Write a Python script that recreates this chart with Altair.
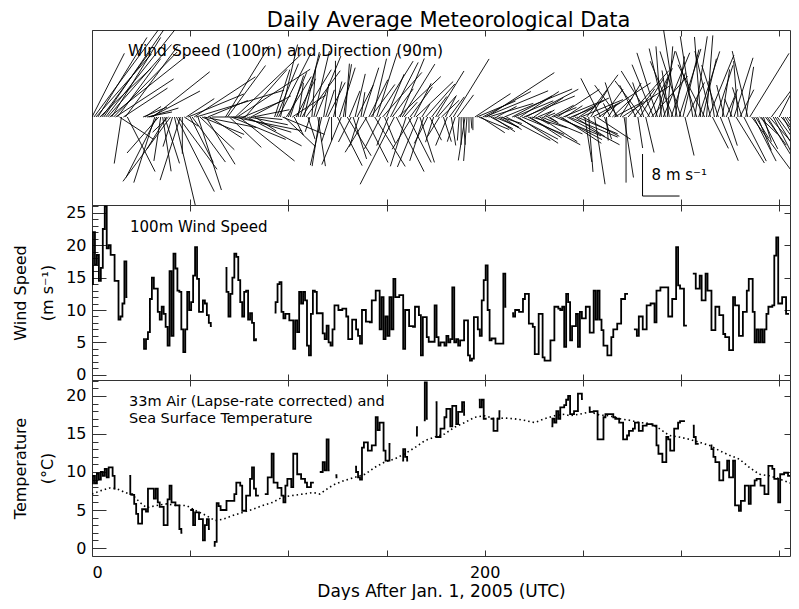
import altair as alt
import pandas as pd

# ---------------- data ----------------
# daily 100 m wind speed (m/s), contiguous segments: (first day, values)
speed_segments = [
    (0,   [14, 22, 17, 18.5, 14.5, 16.5, 22.5, 26, 19.5, 20, 18.5, 18.5, 14.5, 14.5, 8.5, 9, 11, 17.5, 12]),
    (26,  [5.5, 4, 5.5, 6.6, 11.7, 15, 13.3, 13.3, 9.7, 8.5, 10.5, 9.4, 7.4, 4.5, 16, 6, 18.7, 16.4, 13, 12.8,
           7, 3.5, 7, 12.8, 10, 11.2, 15.3, 19.7, 14.8, 9.7, 9.7, 11.5, 11, 9.2, 8, 7.5]),
    (68,  [16.5, 12.8, 9, 12.5, 15, 18.7, 18.2, 14.6, 11.2, 9, 12.8, 13, 8.5, 9.5, 8, 5.3, 5.5]),
    (93,  [9.6, 11.2, 14, 14.3, 9.7, 8.7, 9.4, 9.4, 8.4, 8.4,
           4, 8.4, 6.6, 12.8, 11, 12.8, 11.5, 4.5, 3, 9.4,
           13, 12.8, 9.5, 9.5, 9.5, 6.4, 5.5, 7.6, 5, 4.5,
           7, 10.7, 10.7, 10, 10, 10.2, 10.2, 9, 5.5, 5.5,
           8.5, 8.5, 7, 6, 4.8, 10, 10, 8.2, 8.2, 8.1,
           11.5, 11.5, 13, 13, 7, 12, 5.5, 9, 6, 12,
           7, 14.8, 12, 12, 12.3, 12.3, 4, 10, 10, 7.5,
           7.5, 7.4, 10.5, 10.5, 9.2, 3, 8.9, 8.9, 5.8, 5.1,
           5.1, 5.1, 10.7, 5.8, 4.5, 5, 5, 4.5, 6, 5,
           5.5, 13.5, 5, 5.5, 4.5, 5.3, 5.3, 8.4, 8.4, 3,
           2.2, 2.5, 8.9, 8.9, 7, 6, 11.5, 14.6, 16.9, 10,
           5.3, 5.6, 5.6, 4.8, 4.8, 4.8, 4.8, 15.6, 10.5]),
    (214, [9.5, 9, 10, 10, 9.7, 9.7, 11.7, 12.5, 12.5, 7.9,
           7.9, 7.4, 3.2, 3.2, 9.4, 9.4, 2.7, 2.2, 2.2, 2.2,
           5.3, 5.3, 10.5, 10.5, 10.2, 10, 10.5, 4.3, 12.5, 11.2,
           5.3, 7.5, 7.5, 9.4, 4.3, 9.7, 8.7, 8.7, 10.5, 10.5,
           6.5, 6.5, 13, 8.5, 13, 8.5, 6.9, 4.5, 4.5, 3,
           3, 5.8, 7, 7, 7.9, 7.9, 11.7, 11.7, 12.5, 12.5]),
    (276, [7, 7, 6, 9, 9, 7, 7, 10.7, 10.7, 11,
           11, 8.1, 13, 13, 13.5, 13.5, 13.5, 13.5, 9, 9,
           11.7, 11.7, 19.7, 13.8, 13.3, 13.3, 7.6, 7.6]),
    (306, [15.6, 15.6, 13.3, 13.3, 15.3, 11.5, 11.5, 15.6, 13, 13,
           6.9, 6.9, 10.5, 10.5, 9.2, 9.2, 6.3, 5.8, 5.8, 3.8,
           3.8, 12, 10.7, 10.7, 6, 6, 9.7, 9.7, 13, 14.8,
           14.8, 9.7, 5, 7, 5, 7, 5, 7, 9.4, 10.5,
           10.5, 10.7, 18.4, 21.2, 11, 11, 12, 12, 9.4, 9.4]),
    (359, [14]),
]

# 90 m wind direction (degrees, direction the stick points, clockwise from north)
direction_segments = [
    (0,   [30, 40, 45, 35, 50, 40, 38, 42, 45, 55, 35, 48, 60, 40, 120, 190, 60, 40, 150]),
    (26,  [70, 60, 80, 75, 65, 55, 200, 210, 225, 190, 170, 160, 215, 230, 220, 200, 165, 150, 140, 200,
           180, 120, 60, 70, 150, 140, 60, 75, 160, 130, 110, 100, 145, 70, 120, 90]),
    (68,  [35, 40, 130, 110, 100, 50, 60, 125, 105, 70, 45, 115, 100, 65, 80, 120, 95]),
    (93,  [20, 25, 30, 15, 110, 130, 35, 25, 20, 60,
           150, 30, 10, 20, 35, 15, 40, 160, 200, 5,
           15, 25, 170, 190, 195, 10, 20, 30, 200, 180,
           15, 0, 150, 20, 205, 10, 5, 145, 25, 210,
           160, 15, 30, 200, 10, 20, 150, 215, 30, 40,
           15, 145, 20, 35, 210, 45, 155, 25, 205, 30,
           40, 210, 150, 50, 25, 35, 45, 200, 150, 40,
           215, 30, 50, 205, 160, 35, 200, 45, 210, 150,
           40, 200, 35, 45, 215, 50, 160, 30, 205, 40,
           170, 35, 200, 40, 185, 180, 175, 190, 185, 180,
           175, 180, 60, 70, 110, 120, 65, 70, 60, 75,
           115, 120, 110, 65, 115, 105, 120, 70, 115]),
    (214, [65, 70, 115, 120, 60, 110, 70, 65, 115, 120,
           105, 60, 115, 70, 120, 110, 60, 70, 115, 120,
           65, 70, 110, 60, 115, 120, 70, 60, 115, 110,
           70, 65, 120, 110, 60, 70, 115, 170, 40, 175,
           35, 65, 170, 120, 60, 330, 40, 160, 175, 35,
           330, 50, 65, 340, 320, 35, 60, 170, 180, 45]),
    (276, [40, 330, 170, 35, 320, 340, 165, 30, 325, 45,
           335, 20, 340, 15, 355, 25, 345, 5, 350, 20,
           335, 10, 350, 20, 340, 15, 165, 30]),
    (306, [350, 10, 340, 20, 355, 15, 330, 5, 25, 345,
           150, 350, 20, 340, 155, 10, 345, 25, 160, 15,
           335, 20, 145, 355, 30, 340, 150, 10, 345, 35,
           140, 150, 145, 155, 130, 150, 160, 140, 145, 135,
           40, 150, 145, 140, 30, 135, 150, 145, 140, 130]),
    (359, [140]),
]

# 33 m air temperature (deg C), contiguous segments
air_segments = [
    (0,   [8.5, 9.5, 8.5, 9.8, 9, 10, 9.5, 10.4, 9.3, 10.6, 10.6, 9.5, 7.8]),
    (19,  [9.5, 7.1, 7, 5.8, 4.5, 3.2, 3.2, 5.1, 5.1, 4.8, 7.8, 7.8, 7.8, 6.5, 7.8, 6, 5.4, 5.4, 3, 3,
           6.4, 8.2, 6, 6, 5.6, 5.6, 2.5, 2]),
    (50,  [5, 5, 3, 4.7, 4.7, 3.8, 3.8, 1, 3, 3.8, 2.5]),
    (62,  [0.3, 0.8, 5.9, 5.5, 5, 5, 5, 6.2, 6.2, 6.2, 6.2, 7.1, 8.6, 8.6, 8.2, 4.9, 4.9, 6.9, 6.9, 9.1,
           10.6, 7.8, 6.9, 6.9]),
    (88,  [7.1, 7.1, 9.3, 9.3, 12.4, 8.6, 8.6, 7.9, 7.9, 6.9, 6, 8.2, 9.1, 9.1, 8, 12.4, 12.4, 9.7, 9.7, 9.1,
           9.1, 8.6, 8, 8, 8.6, 8.6]),
    (116, [10, 10, 11.3, 10.2, 14.3, 10.2]),
    (124, [9.6, 9.3]),
    (134, [10.7, 10, 9.3, 9, 13.2, 13.9, 13.9, 12.8, 12.8, 13.5, 13.5, 17.2, 15.5, 16.5, 16.5, 12.8, 11.5,
           11.5, 13.7]),
    (158, [11.5, 13, 12, 11.5]),
    (165, [14.8, 15.9]),
    (169, [16.8, 21.8, 17]),
    (175, [19.2, 14.6, 14.6, 15.7, 15.7, 17.2, 18.3, 18.3, 16, 18.7, 18.7, 16.3, 17.9, 17.9, 19.2, 17.5]),
    (197, [19.5, 18.5, 19.5, 17, 17]),
    (203, [17, 17, 15.4, 15.4, 17, 18]),
    (234, [16, 17, 16.5, 18, 17, 18.5, 18.5, 18.8, 19.5, 20, 17.6, 17.6, 18, 18, 20.3, 20.3, 19.6]),
    (253, [18.5, 17.9, 17.9, 18, 18, 14.3, 14.3, 14.3, 17.2, 17.6, 17.6, 17.6, 17.6, 17.2, 17, 17, 16.5,
           16.5, 14.3, 14.3, 14.8, 15.4, 15.4, 15.7, 16.5, 16.5, 15.4, 15.4, 16.1, 16.1, 16.3, 16.3, 16.3,
           16.1, 16.1, 13.5, 12.4, 12.4, 11.3, 11.3, 14.6, 14.3, 12.8, 12.8, 15.7, 15.7, 16.5, 16.7, 16.7,
           16.7]),
    (306, [16.1, 14.6, 13.7, 13.7]),
    (315, [13.5, 13, 12, 11.3, 11.3, 8.9, 8.9, 10.2, 10.2, 11.5, 9.3, 9.3, 11.5, 5.6, 5.6, 4.9, 6.2, 6.2,
           8.2, 8.2, 5.8, 8.2, 8.2, 8.9, 9.1, 9.1, 8.2, 8.2, 7.1, 7.1, 10.8, 10.8, 10.4, 9.1, 9.1, 6, 9.7,
           9.7, 9.9, 9.9, 9.5, 9.5, 9.7, 9.7, 5.6]),
]

# sea surface temperature (deg C), dotted curve
sst_days = [0, 4, 9, 12.6, 16, 21, 24.4, 27.8, 33, 38, 43, 48, 53, 58, 62.6, 66.8, 72, 77, 82, 87, 92, 97,
            102, 107.5, 112.6, 116, 121, 123.7, 128.8, 133.9, 139, 144, 149, 154, 159.3, 164.4, 169.4,
            174.5, 179.6, 184.7, 189.8, 194.9, 200, 205, 210, 215, 220, 225.4, 230.5, 235.5, 240.6, 243.3,
            248.4, 253.5, 258.5, 263.6, 268.7, 273.8, 278.9, 284, 289, 294, 299, 304.3, 309.4, 314.5,
            319.6, 324.6, 329.7, 334.8, 339.9, 345, 350, 355, 360]
sst_vals = [7.1, 7.5, 7.9, 7.8, 7.4, 6.9, 6, 5.3, 5.6, 5.8, 5.6, 5.6, 4.9, 4.3, 3.6, 3.8, 4.3, 4.7, 5.1,
            5.6, 6, 6.7, 6.9, 7.1, 7.3, 7.1, 8, 8.4, 8.9, 9.3, 9.7, 10.6, 11.3, 11.7, 12.4, 13.2, 14.1,
            14.6, 15, 15.9, 16.5, 17.2, 17.4, 17, 17.1, 17, 16.8, 16.5, 17, 17.4, 17.6, 17.4, 17.6, 17.9,
            17.5, 17.4, 17, 16.8, 16.5, 16.4, 15.7, 14.8, 14.6, 14.3, 13.9, 13.5, 12.8, 12.2, 11.7, 10.6,
            9.7, 9.5, 9.1, 8.6, 8.2]

# scale bar of the vector panel
bar_day = [280.4]
bar_base = [-15.05]
bar_len = [8]

x_tick_values = [0, 50, 100, 150, 200, 250, 300, 350]
x_label_values = [0, 200]
ws_major = [0, 5, 10, 15, 20, 25]
ws_minor = list(range(0, 27))
t_major = [0, 5, 10, 15, 20]
t_minor = list(range(0, 23))

# ---------------- tables ----------------
def seg_table(segments, name):
    rows = []
    for k, (start, vals) in enumerate(segments):
        for i, v in enumerate(vals):
            rows.append({"day": start + i, name: v, "seg": k})
    return pd.DataFrame(rows)

wind = seg_table(speed_segments, "speed")
dirs = seg_table(direction_segments, "dir").drop(columns="seg")
wind_vec = wind.merge(dirs, on="day")
air = seg_table(air_segments, "temp")
sst = pd.DataFrame({"day": sst_days, "sst": sst_vals})
bar = pd.DataFrame({"day": bar_day, "base": bar_base, "len": bar_len})
dummy = pd.DataFrame({"fx": [0], "fy": [0]})

# ---------------- layout ----------------
FONT = "DejaVu Sans"
W = 698
H1, H2, H3 = 175, 175, 176
XDOM = [0, 355.5]
K = 2.355  # days of x per m/s of stick (x and y stick scales differ as in the original)
xs = alt.Scale(domain=XDOM, nice=False, zero=False)

def frame_layers(ydom, h, major=None, minor=None):
    ys = alt.Scale(domain=ydom, nice=False, zero=False)
    base = alt.Chart(dummy).mark_point(opacity=0)
    la = base.encode(
        x=alt.X("fx:Q", scale=xs, axis=alt.Axis(orient="top", offset=-h, values=x_tick_values,
                                                labels=False, tickSize=6, title=None)),
        y=alt.Y("fy:Q", scale=ys, axis=(alt.Axis(orient="right", offset=-W, values=major, labels=False,
                                                 tickSize=14, title=None) if major else None)),
    )
    lb = base.encode(
        x=alt.X("fx:Q", scale=xs, axis=alt.Axis(orient="bottom", offset=-h, values=x_tick_values,
                                                labels=False, tickSize=6, title=None)),
        y=alt.Y("fy:Q", scale=ys, axis=(alt.Axis(orient="left", offset=-W, values=major, labels=False,
                                                 tickSize=6, title=None) if major else None)),
    )
    out = [la, lb]
    if minor:
        lc = base.encode(
            x=alt.X("fx:Q", scale=xs, axis=None),
            y=alt.Y("fy:Q", scale=ys, axis=alt.Axis(orient="right", offset=-W, values=minor, labels=False,
                                                    tickSize=6, title=None)),
        )
        out.append(lc)
    return out

# ---- panel 1: wind sticks ----
Y1 = [-16.76, 16.57]
ys1 = alt.Scale(domain=Y1, nice=False, zero=False)
sticks = alt.Chart(wind_vec).transform_calculate(
    xe=f"datum.day + {K} * datum.speed * sin(datum.dir * PI / 180)",
    ye="datum.speed * cos(datum.dir * PI / 180)",
    y0="0",
).mark_rule(color="black", strokeWidth=0.9, clip=True).encode(
    x=alt.X("day:Q", scale=xs, axis=None),
    x2="xe:Q",
    y=alt.Y("y0:Q", scale=ys1, axis=None),
    y2="ye:Q",
)
bar_v = alt.Chart(bar).transform_calculate(top="datum.base + datum.len").mark_rule(
    color="black", strokeWidth=1).encode(
    x=alt.X("day:Q", scale=xs, axis=None), y=alt.Y("base:Q", scale=ys1, axis=None), y2="top:Q")
bar_h = alt.Chart(bar).transform_calculate(right=f"datum.day + {K} * datum.len").mark_rule(
    color="black", strokeWidth=1).encode(
    x=alt.X("day:Q", scale=xs, axis=None), x2="right:Q", y=alt.Y("base:Q", scale=ys1, axis=None))
bar_t = alt.Chart(bar).transform_calculate(tx="datum.day + 4.6", ty="datum.base + 4").mark_text(
    align="left", baseline="middle", font=FONT, fontSize=15, color="black").encode(
    x=alt.X("tx:Q", scale=xs, axis=None), y=alt.Y("ty:Q", scale=ys1, axis=None),
    text=alt.value("8 m s⁻¹"))
lab1 = alt.Chart(dummy).mark_text(align="left", baseline="middle", font=FONT, fontSize=15.5,
                                  color="black").encode(
    x=alt.value(36), y=alt.value(21), text=alt.value("Wind Speed (100m) and Direction (90m)"))
p1 = alt.layer(sticks, bar_v, bar_h, bar_t, lab1, *frame_layers(Y1, H1)).resolve_axis(
    x="independent", y="independent").properties(width=W, height=H1)

# ---- panel 2: wind speed ----
Y2 = [-0.8, 26.2]
ys2 = alt.Scale(domain=Y2, nice=False, zero=False)
ws_line = alt.Chart(wind).mark_line(interpolate="step", color="black", strokeWidth=1.8, clip=True).encode(
    x=alt.X("day:Q", scale=xs, axis=None),
    y=alt.Y("speed:Q", scale=ys2, axis=alt.Axis(orient="left", values=ws_major, ticks=False, tickSize=0,
                                                labelPadding=6, title=["Wind Speed", "(m s⁻¹)"],
                                                titlePadding=10)),
    detail="seg:N",
)
lab2 = alt.Chart(dummy).mark_text(align="left", baseline="middle", font=FONT, fontSize=15,
                                  color="black").encode(
    x=alt.value(38), y=alt.value(22), text=alt.value("100m Wind Speed"))
p2 = alt.layer(ws_line, lab2, *frame_layers(Y2, H2, ws_major, ws_minor)).resolve_axis(
    x="independent", y="independent").properties(width=W, height=H2)

# ---- panel 3: temperatures ----
Y3 = [-1.05, 22.1]
ys3 = alt.Scale(domain=Y3, nice=False, zero=False)
air_line = alt.Chart(air).mark_line(interpolate="step", color="black", strokeWidth=1.8, clip=True).encode(
    x=alt.X("day:Q", scale=xs, axis=alt.Axis(orient="bottom", values=x_label_values, ticks=False,
                                             tickSize=0, labelPadding=8, labelFontSize=16,
                                             title="Days After Jan. 1, 2005 (UTC)", titlePadding=3,
                                             titleFontSize=17)),
    y=alt.Y("temp:Q", scale=ys3, axis=alt.Axis(orient="left", values=t_major, ticks=False, tickSize=0,
                                               labelPadding=6, title=["Temperature", "(°C)"],
                                               titlePadding=10)),
    detail="seg:N",
)
sst_line = alt.Chart(sst).mark_line(color="black", strokeWidth=1.6, strokeDash=[1.5, 3], clip=True).encode(
    x=alt.X("day:Q", scale=xs, axis=None),
    y=alt.Y("sst:Q", scale=ys3, axis=None),
)
lab3a = alt.Chart(dummy).mark_text(align="left", baseline="middle", font=FONT, fontSize=14.5,
                                   color="black").encode(
    x=alt.value(37), y=alt.value(22), text=alt.value("33m Air (Lapse-rate corrected) and"))
lab3b = alt.Chart(dummy).mark_text(align="left", baseline="middle", font=FONT, fontSize=14.5,
                                   color="black").encode(
    x=alt.value(37), y=alt.value(39), text=alt.value("Sea Surface Temperature"))
p3 = alt.layer(air_line, sst_line, lab3a, lab3b, *frame_layers(Y3, H3, t_major, t_minor)).resolve_axis(
    x="independent", y="independent").properties(width=W, height=H3)

chart = alt.vconcat(p1, p2, p3, spacing=0, bounds="flush").properties(
    title=alt.Title("Daily Average Meteorological Data", fontSize=21, font=FONT, fontWeight="normal",
                    color="black", anchor="middle", offset=-2, dx=47),
    padding={"left": 4, "top": 2, "right": 0, "bottom": 0},
).configure_view(stroke="#333", strokeWidth=1).configure_axis(
    domain=False, grid=False, tickColor="#333", tickWidth=1,
    labelFont=FONT, labelFontSize=16, labelColor="black",
    titleFont=FONT, titleFontSize=16, titleFontWeight="normal", titleColor="black", titleLineHeight=27,
)

chart.save("out.html", embed_options={"renderer": "svg", "actions": False})
